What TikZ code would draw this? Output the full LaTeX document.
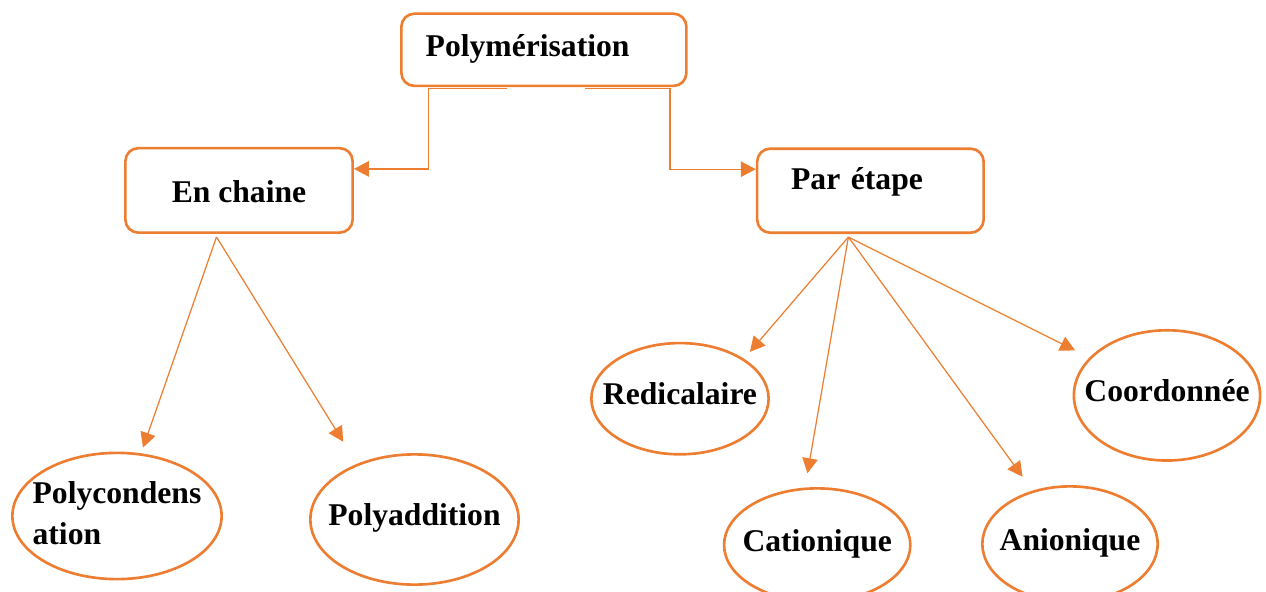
\documentclass[tikz,border=0pt]{standalone}
\usepackage{fontspec}
\setmainfont{Liberation Serif}
\usepackage{tikz}
\usetikzlibrary{arrows.meta,positioning,shapes.geometric}
\definecolor{polyOrange}{HTML}{ED7D31}
\newcommand{\nowide}[1]{\makebox[0pt]{#1}}

\begin{document}
\begin{tikzpicture}[>={Triangle[length=3mm,width=3.1mm]},on grid,
  every node/.style={font=\fontsize{18}{23.3}\selectfont\bfseries},
  box/.style={draw=polyOrange,line width=1.5pt,rounded corners=2.6mm,inner ysep=0pt},
  bubble/.style={draw=polyOrange,line width=1.5pt,ellipse,inner sep=0pt,text height=4.5mm,text depth=2.1mm},
  link/.style={->,draw=polyOrange,line width=0.7pt}]
\useasboundingbox (-108.78mm,9.96mm) rectangle (144.42mm,-108.44mm);
\node[box,align=left,minimum height=14.45mm,inner xsep=4.86mm,text width=47.28mm,text height=4.9mm,text depth=2.1mm] (root) {Polymérisation};
\node[box,minimum width=45.45mm,minimum height=16.9mm,text height=5mm,text depth=0.1mm,below left=28.12mm and 60.98mm of root] (chain) {En chaine};
\node[box,align=left,minimum height=16.8mm,inner xsep=6.8mm,text width=31.7mm,text height=5mm,text depth=5.56mm,below right=28.18mm and 65.3mm of root] (etape) {Par étape};
\node[bubble,minimum width=41.85mm,minimum height=25.25mm,text height=,text depth=,below left=65.12mm and 24.4mm of chain] (pcond) {\nowide{\begin{tabular}{@{}l@{}}Polycondens\\ation\end{tabular}}};
\node[bubble,minimum width=41.65mm,minimum height=26.05mm,below right=65.82mm and 35.1mm of chain] (padd) {\nowide{Polyaddition}};
\node[bubble,minimum width=35.45mm,minimum height=22.25mm,below left=41.6mm and 38.08mm of etape] (redic) {\nowide{Redicalaire}};
\node[bubble,minimum width=37.25mm,minimum height=22.65mm,below left=70.86mm and 10.64mm of etape] (cation) {\nowide{Cationique}};
\node[bubble,minimum width=35.05mm,minimum height=23.05mm,below right=70.66mm and 39.92mm of etape] (anion) {\nowide{Anionique}};
\node[bubble,minimum width=37.25mm,minimum height=26.05mm,below right=40.94mm and 59.32mm of etape] (coord) {\nowide{Coordonnée}};
\coordinate (chainout) at ([xshift=-4.5mm,yshift=-0.6mm]chain.south);
\coordinate (etapeout) at ([xshift=-4.4mm,yshift=-0.6mm]etape.south);
\draw[link] ([xshift=-7.4mm,yshift=-0.3mm]root.south) -- ++(-15.7mm,0) |- ([yshift=4.3mm]chain.east);
\draw[link] ([xshift=8.2mm,yshift=-0.3mm]root.south) -- ++(17mm,0) |- ([yshift=4.3mm]etape.west);
\draw[link,shorten >=1.2mm] (chainout) -- (pcond.69);
\draw[link,shorten >=5.2mm] (chainout) -- (padd.136);
\draw[link,shorten >=1.8mm] (etapeout) -- (redic.32);
\draw[link,shorten >=2.9mm] (etapeout) -- (cation.102);
\draw[link,shorten >=3.4mm] (etapeout) -- (anion.125);
\draw[link,shorten >=3.2mm] (etapeout) -- (coord.154);
\end{tikzpicture}
\end{document}
